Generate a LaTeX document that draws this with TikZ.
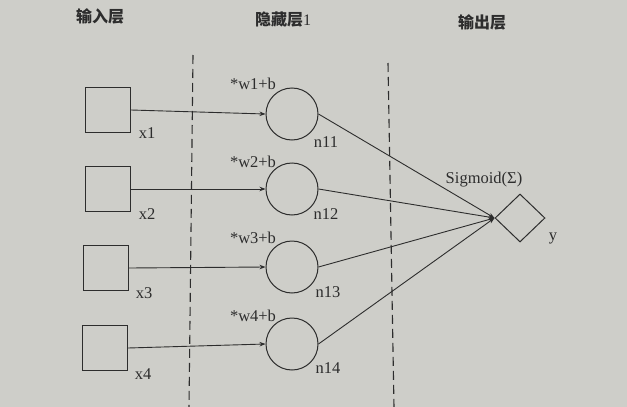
\documentclass[tikz,border=0pt]{standalone}
\usepackage{fontspec}
\setmainfont{Liberation Serif}
\newfontfamily\cjk{Noto Sans CJK SC}
\usetikzlibrary{shapes.geometric,arrows.meta}
\definecolor{paper}{RGB}{206,206,201}
\definecolor{ink}{RGB}{45,45,45}
\tikzset{
  inbox/.style={draw=ink, line width=1pt, rectangle, minimum size=45pt, inner sep=0pt},
  neuron/.style={draw=ink, line width=1pt, circle, minimum size=52pt, inner sep=0pt},
  outnode/.style={draw=ink, line width=1pt, diamond, minimum width=50pt, minimum height=48pt, inner sep=0pt},
  lbl/.style={text=ink, font=\fontsize{16.5}{18}\selectfont, inner sep=0pt},
  head/.style={text=ink, font=\fontsize{16}{18}\selectfont, inner sep=0pt},
  conn/.style={draw=ink, line width=0.9pt, -{Stealth[length=6pt,width=4.5pt]}},
  divider/.style={draw=ink, line width=1.1pt, dash pattern=on 9pt off 5pt}
}
\begin{document}
\begin{tikzpicture}[x=1pt,y=-1pt]
\fill[paper] (0,0) rectangle (627,407);
\useasboundingbox (0,0) rectangle (627,407);
% headers
\node[head] (h1) at (100,16) {\cjk\bfseries 输入层};
\node[head] (h2) at (283,20) {{\cjk\bfseries 隐藏层}1};
\node[head] (h3) at (482,22) {\cjk\bfseries 输出层};
% dividers
\coordinate (d1t) at (193,55);
\coordinate (d1b) at (189,407);
\coordinate (d2t) at (388,63);
\coordinate (d2b) at (394,407);
\draw[divider] (d1t) -- (d1b);
\draw[divider] (d2t) -- (d2b);
% inputs
\node[inbox] (x1) at (108,110) {};
\node[inbox] (x2) at (108,189) {};
\node[inbox] (x3) at (106,268) {};
\node[inbox] (x4) at (105,348) {};
% hidden neurons
\node[neuron] (n11) at (292,114) {};
\node[neuron] (n12) at (292,189) {};
\node[neuron] (n13) at (292,267) {};
\node[neuron] (n14) at (292,344) {};
% output
\node[outnode] (y) at (520,218) {};
% labels
\node[lbl] (lx1) at (147,133) {x1};
\node[lbl] (lx2) at (147,214) {x2};
\node[lbl] (lx3) at (144,293) {x3};
\node[lbl] (lx4) at (143,374) {x4};
\node[lbl] (ln11) at (326,142) {n11};
\node[lbl] (ln12) at (326,214) {n12};
\node[lbl] (ln13) at (328,292) {n13};
\node[lbl] (ln14) at (328,368) {n14};
\node[lbl] (w1) at (253,84) {*w1+b};
\node[lbl] (w2) at (253,162) {*w2+b};
\node[lbl] (w3) at (253,238) {*w3+b};
\node[lbl] (w4) at (253,316) {*w4+b};
\node[lbl] (sg) at (484,180) {Sigmoid(Σ)};
\node[lbl] (ly) at (553,238) {y};
% connectors
\draw[conn] (x1.east) -- (n11.west);
\draw[conn] (x2.east) -- (n12.west);
\draw[conn] (x3.east) -- (n13.west);
\draw[conn] (x4.east) -- (n14.west);
\draw[conn] (n11.east) -- (y.west);
\draw[conn] (n12.east) -- (y.west);
\draw[conn] (n13.east) -- (y.west);
\draw[conn] (n14.east) -- (y.west);
\end{tikzpicture}
\end{document}
